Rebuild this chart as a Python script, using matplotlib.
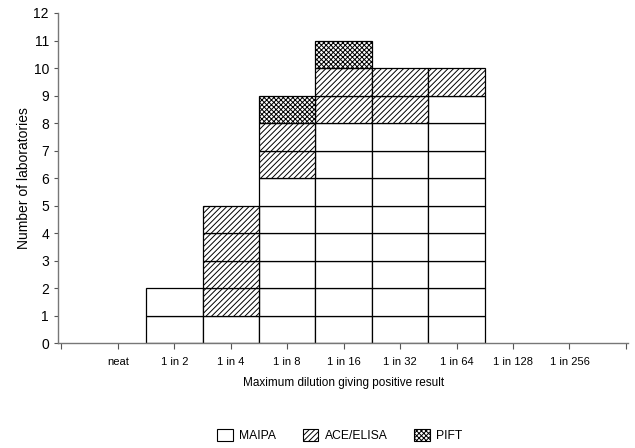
import matplotlib.pyplot as plt
from matplotlib.patches import Patch
import numpy as np

plt.rcParams['font.family'] = ['Liberation Sans', 'DejaVu Sans']
plt.rcParams['hatch.linewidth'] = 0.7

# data
dilutions = ["neat", "1 in 2", "1 in 4", "1 in 8", "1 in 16", "1 in 32", "1 in 64", "1 in 128", "1 in 256"]
maipa = [0, 2, 1, 6, 8, 8, 9, 0, 0]
ace_elisa = [0, 0, 4, 2, 2, 2, 1, 0, 0]
pift = [0, 0, 0, 1, 1, 0, 0, 0, 0]

series = [("MAIPA", maipa, ""), ("ACE/ELISA", ace_elisa, "//////"), ("PIFT", pift, "xxxxxxx")]

fig = plt.figure(figsize=(6.35, 4.48), dpi=100)
ax = fig.add_axes([0.0913, 0.234, 0.898, 0.737])

x = np.arange(1, len(dilutions) + 1)
base = np.zeros(len(dilutions))
for name, vals, hatch in series:
    for i, v in enumerate(vals):
        # one box per laboratory
        for k in range(v):
            ax.bar(x[i], 1, width=1.0, bottom=base[i] + k, color="white",
                   edgecolor="black", linewidth=0.9, hatch=hatch)
    base += np.array(vals)

ax.set_xlim(-0.06, 10.04)
ax.set_ylim(0, 12)
ax.set_xticks(np.arange(0, 11))
ax.set_xticklabels([""] + dilutions + [""], fontsize=8)
ax.set_yticks(np.arange(0, 13))
ax.tick_params(axis="y", labelsize=10, length=3, width=0.8, color="#555555")
ax.tick_params(axis="x", length=4, width=0.8, color="#555555", pad=6)
for s in ["top", "right"]:
    ax.spines[s].set_visible(False)
for s in ["left", "bottom"]:
    ax.spines[s].set_color("#777777")
    ax.spines[s].set_linewidth(1.0)

ax.set_xlabel("Maximum dilution giving positive result", fontsize=8.5, labelpad=7)
ax.set_ylabel("Number of laboratories", fontsize=10, labelpad=2)

handles = [Patch(facecolor="white", edgecolor="black", linewidth=0.8, hatch=h, label=n)
           for n, _, h in series]
fig.legend(handles=handles, loc="center", bbox_to_anchor=(0.535, 0.027), ncol=3,
           frameon=False, fontsize=8.7, handlelength=1.3, handleheight=1.1,
           columnspacing=2.2, handletextpad=0.5)

fig.savefig("out.png", dpi=100)
